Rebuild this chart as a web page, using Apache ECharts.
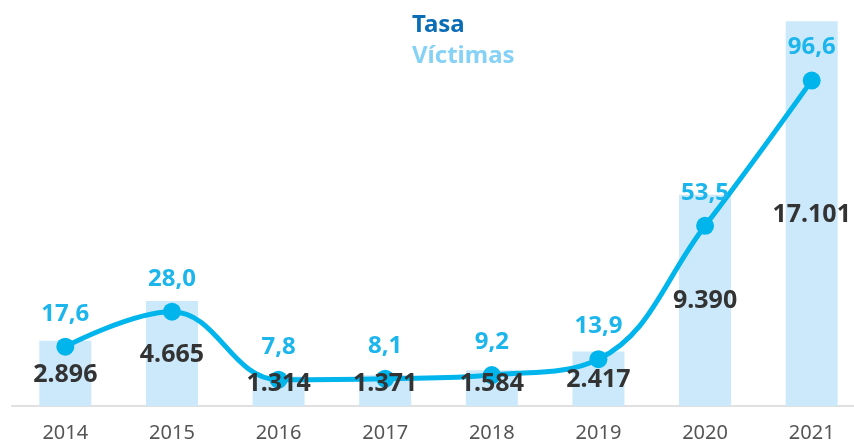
<!DOCTYPE html>
<html>
<head>
<meta charset="utf-8">
<script src="https://cdn.jsdelivr.net/npm/echarts@6/dist/echarts.min.js"></script>
<style>
html,body{margin:0;padding:0;background:#fff;overflow:hidden;width:854px;height:447px;}
#chart{width:870px;height:447px;}
</style>
</head>
<body>
<div id="chart"></div>
<script>
const years = ['2014','2015','2016','2017','2018','2019','2020','2021'];
const victimas = [2896, 4665, 1314, 1371, 1584, 2417, 9390, 17101];
const tasa = [17.6, 28.0, 7.8, 8.1, 9.2, 13.9, 53.5, 96.6];

const chart = echarts.init(document.getElementById('chart'));
const fontFam = '"Noto Sans", "Open Sans", sans-serif';

chart.setOption({
  animation: false,
  backgroundColor: '#ffffff',
  legend: {
    orient: 'vertical',
    left: 402,
    top: 8,
    itemWidth: 0,
    itemHeight: 0,
    itemGap: 7,
    icon: 'rect',
    selectedMode: false,
    textStyle: { fontFamily: fontFam, fontSize: 24, fontWeight: 'bold' },
    data: [
      { name: 'Tasa', textStyle: { color: '#0a6db5' } },
      { name: 'Víctimas', textStyle: { color: '#86d2f6' } }
    ]
  },
  grid: { left: 12, top: 21, width: 853, bottom: 41, containLabel: false },
  xAxis: {
    type: 'category',
    data: years,
    axisLine: { lineStyle: { color: '#e0e0e0', width: 2 } },
    axisTick: { show: false },
    axisLabel: { color: '#555555', fontFamily: fontFam, fontSize: 20, margin: 17 }
  },
  yAxis: [
    { type: 'value', min: 0, max: 17110, show: false, splitLine: { show: false } },
    { type: 'value', min: 0, max: 114.3, show: false, splitLine: { show: false } }
  ],
  series: [
    {
      name: 'Víctimas',
      type: 'bar',
      yAxisIndex: 0,
      data: victimas,
      barWidth: 52,
      itemStyle: { color: '#cbe9fa' },
      z: 1
    },
    {
      name: 'Tasa',
      type: 'line',
      yAxisIndex: 1,
      data: tasa,
      smooth: 0.4,
      symbol: 'circle',
      symbolSize: 18,
      lineStyle: { color: '#00b4ec', width: 5 },
      itemStyle: { color: '#00b4ec' },
      label: {
        show: true,
        position: 'top',
        distance: 12,
        color: '#1cb5ec',
        fontFamily: fontFam,
        fontWeight: 'bold',
        fontSize: 24,
        formatter: p => p.value.toFixed(1).replace('.', ',')
      },
      z: 3
    },
    {
      name: 'VíctimasEtiquetas',
      type: 'bar',
      yAxisIndex: 0,
      data: victimas,
      barWidth: 52,
      barGap: '-100%',
      itemStyle: { color: 'rgba(0,0,0,0)' },
      label: {
        show: true,
        position: 'inside',
        color: '#333333',
        fontFamily: fontFam,
        fontWeight: 'bold',
        fontSize: 25,
        formatter: p => p.value.toLocaleString('de-DE')
      },
      labelLayout: function (p) {
        const r = p.rect;
        const cy = Math.min(r.y + r.height / 2 + 1, r.y + r.height - 22);
        return { x: r.x + r.width / 2, y: cy, align: 'center', verticalAlign: 'middle' };
      },
      z: 5
    }
  ]
});
</script>
</body>
</html>
